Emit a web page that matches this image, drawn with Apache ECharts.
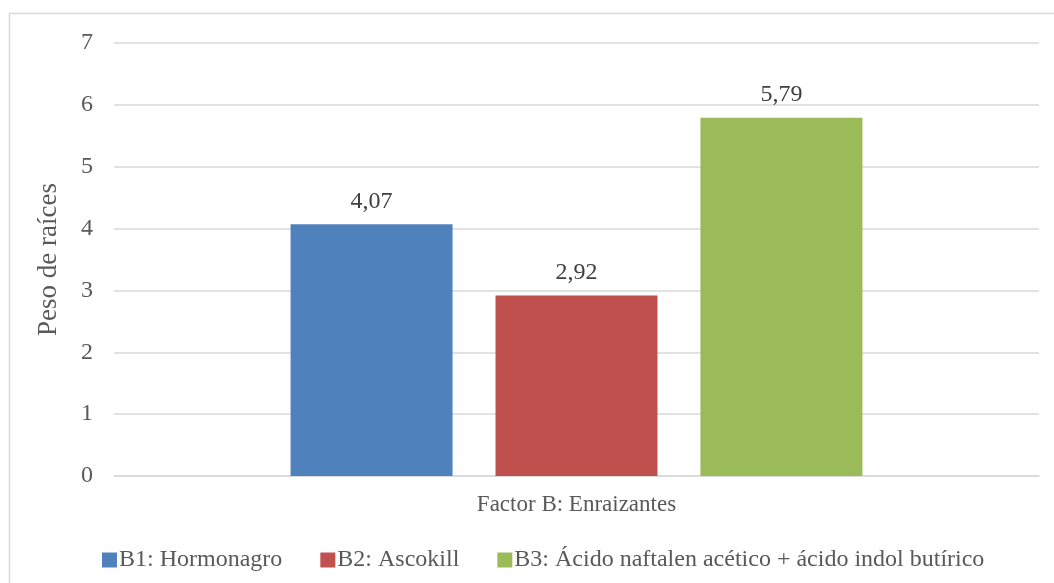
<!DOCTYPE html>
<html>
<head>
<meta charset="utf-8">
<script src="https://cdn.jsdelivr.net/npm/echarts@6/dist/echarts.min.js"></script>
<style>
  html, body { margin: 0; padding: 0; background: #fff; }
  #chart { width: 1054px; height: 583px; }
</style>
</head>
<body>
<div id="chart"></div>
<script>
// datos
const categories = ["Factor B: Enraizantes"];
const seriesNames = ["B1: Hormonagro", "B2: Ascokill", "B3: Ácido naftalen acético + ácido indol butírico"];
const seriesValues = [[4.07], [2.92], [5.79]];
const colors = ["#4F81BD", "#C0504D", "#9BBB59"];
const yTicks = { min: 0, max: 7, interval: 1 };

const font = "Liberation Serif";
const textColor = "#595959";

const chart = echarts.init(document.getElementById("chart"));

chart.setOption({
  animation: false,
  textStyle: { fontFamily: font },
  graphic: [
    {
      type: "rect",
      shape: { x: 9.5, y: 13.5, width: 1200, height: 700 },
      style: { fill: "none", stroke: "#D9D9D9", lineWidth: 1.5 },
      silent: true,
    },
  ],
  grid: { left: 114, right: 15, top: 43, bottom: 107 },
  legend: {
    data: seriesNames,
    left: 97,
    top: 543,
    itemWidth: 15,
    itemHeight: 15,
    itemGap: 38,
    icon: "rect",
    textStyle: { fontFamily: font, fontSize: 24, color: textColor, padding: [0, 0, 0, -3] },
  },
  xAxis: {
    type: "category",
    data: categories,
    axisLine: { lineStyle: { color: "#D9D9D9", width: 1.5 } },
    axisTick: { show: false },
    axisLabel: { fontFamily: font, fontSize: 23, color: textColor, margin: 17 },
  },
  yAxis: {
    type: "value",
    min: yTicks.min,
    max: yTicks.max,
    interval: yTicks.interval,
    name: "Peso de raíces",
    nameLocation: "middle",
    nameGap: 52,
    nameTextStyle: { fontFamily: font, fontSize: 27, color: textColor },
    axisLine: { show: false },
    axisTick: { show: false },
    axisLabel: { fontFamily: font, fontSize: 24, color: textColor, margin: 21 },
    splitLine: { lineStyle: { color: "#D9D9D9", width: 1.5 } },
  },
  series: seriesNames.map((name, i) => ({
    name: name,
    type: "bar",
    data: seriesValues[i],
    barWidth: 162,
    barGap: "26.5%",
    itemStyle: { color: colors[i] },
    label: {
      show: true,
      position: "top",
      distance: 11,
      fontFamily: font,
      fontSize: 24,
      color: "#404040",
      formatter: (p) => p.value.toFixed(2).replace(".", ","),
    },
  })),
});
</script>
</body>
</html>
